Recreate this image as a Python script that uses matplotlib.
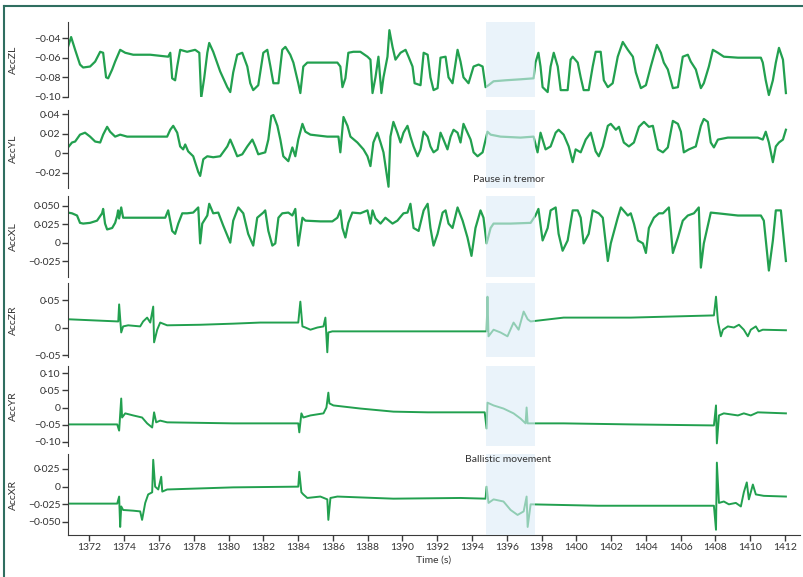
import numpy as np
import matplotlib
matplotlib.use("Agg")
import matplotlib.pyplot as plt
from matplotlib.lines import Line2D
from matplotlib.ticker import FixedLocator, FuncFormatter

plt.rcParams['font.family'] = ['Lato', 'DejaVu Sans']

# data (time in s, acceleration)
t_zl = [1370.77, 1370.95, 1371.18, 1371.46, 1371.64, 1372.04, 1372.33, 1372.62, 1372.79, 1372.96, 1373.08, 1373.31,
        1373.48, 1373.77, 1374.06, 1374.52, 1375.50, 1376.53, 1376.65, 1376.76, 1376.93, 1377.05, 1377.22, 1377.62,
        1378.08, 1378.32, 1378.43, 1378.60, 1378.78, 1378.89, 1379.12, 1379.52, 1379.93, 1380.10, 1380.27, 1380.50,
        1380.79, 1381.08, 1381.25, 1381.42, 1381.71, 1382.00, 1382.23, 1382.41, 1382.58, 1382.87, 1383.09, 1383.27,
        1383.55, 1383.73, 1384.01, 1384.13, 1384.30, 1384.53, 1384.88, 1385.68, 1386.26, 1386.43, 1386.55, 1386.72,
        1386.89, 1387.18, 1387.58, 1387.99, 1388.16, 1388.28, 1388.45, 1388.62, 1388.79, 1388.91, 1389.14, 1389.25,
        1389.43, 1389.60, 1389.89, 1390.18, 1390.35, 1390.58, 1390.70, 1391.04, 1391.22, 1391.45, 1391.61, 1391.79,
        1392.02, 1392.19, 1392.48, 1392.65, 1392.88, 1393.17, 1393.34, 1393.51, 1393.80, 1394.09, 1394.38, 1394.61,
        1394.78, 1394.95, 1395.24, 1395.93, 1396.79, 1397.54, 1397.65, 1397.82, 1397.94, 1398.06, 1398.35, 1398.52,
        1398.70, 1398.93, 1399.10, 1399.50, 1399.67, 1399.79, 1400.08, 1400.25, 1400.42, 1400.71, 1400.94, 1401.11,
        1401.40, 1401.58, 1401.81, 1402.09, 1402.38, 1402.67, 1402.96, 1403.25, 1403.42, 1403.71, 1404.00, 1404.28,
        1404.63, 1404.86, 1405.03, 1405.26, 1405.55, 1405.84, 1406.12, 1406.41, 1406.58, 1406.87, 1407.16, 1407.33,
        1407.62, 1407.85, 1408.14, 1408.48, 1409.29, 1410.03, 1410.61, 1410.72, 1410.89, 1411.07, 1411.30, 1411.47,
        1411.65, 1411.88, 1412.05]
v_zl = [-0.049, -0.039, -0.052, -0.067, -0.070, -0.069, -0.064, -0.054, -0.055, -0.080, -0.081, -0.072,
        -0.064, -0.052, -0.055, -0.057, -0.057, -0.059, -0.055, -0.081, -0.083, -0.069, -0.052, -0.054,
        -0.052, -0.055, -0.101, -0.081, -0.055, -0.045, -0.054, -0.074, -0.090, -0.095, -0.075, -0.057,
        -0.055, -0.069, -0.086, -0.093, -0.088, -0.055, -0.052, -0.069, -0.086, -0.086, -0.052, -0.049,
        -0.057, -0.065, -0.086, -0.096, -0.069, -0.065, -0.065, -0.065, -0.065, -0.069, -0.090, -0.081,
        -0.055, -0.054, -0.054, -0.059, -0.062, -0.096, -0.080, -0.059, -0.096, -0.080, -0.059, -0.032,
        -0.049, -0.062, -0.055, -0.052, -0.059, -0.069, -0.086, -0.088, -0.055, -0.057, -0.080, -0.093,
        -0.091, -0.060, -0.059, -0.080, -0.086, -0.052, -0.064, -0.080, -0.086, -0.069, -0.067, -0.069,
        -0.090, -0.088, -0.084, -0.083, -0.082, -0.081, -0.065, -0.055, -0.069, -0.090, -0.095, -0.069,
        -0.055, -0.069, -0.093, -0.093, -0.062, -0.059, -0.065, -0.080, -0.093, -0.093, -0.069, -0.054,
        -0.054, -0.083, -0.090, -0.086, -0.059, -0.044, -0.052, -0.059, -0.075, -0.091, -0.088, -0.069,
        -0.047, -0.055, -0.065, -0.072, -0.091, -0.090, -0.059, -0.057, -0.064, -0.072, -0.091, -0.086,
        -0.069, -0.052, -0.055, -0.059, -0.060, -0.060, -0.060, -0.065, -0.083, -0.098, -0.083, -0.065,
        -0.050, -0.062, -0.096]

t_yl = [1370.77, 1371.00, 1371.18, 1371.46, 1371.75, 1372.04, 1372.33, 1372.62, 1372.79, 1373.02, 1373.19, 1373.48,
        1373.77, 1374.17, 1374.92, 1375.90, 1376.47, 1376.65, 1376.82, 1377.05, 1377.22, 1377.39, 1377.51, 1377.68,
        1377.97, 1378.26, 1378.37, 1378.55, 1378.78, 1379.12, 1379.52, 1379.93, 1380.10, 1380.27, 1380.50, 1380.79,
        1381.08, 1381.37, 1381.54, 1381.71, 1382.11, 1382.29, 1382.46, 1382.58, 1382.81, 1382.98, 1383.15, 1383.44,
        1383.67, 1383.84, 1384.01, 1384.25, 1384.42, 1384.71, 1385.68, 1386.32, 1386.43, 1386.61, 1386.84, 1387.01,
        1387.41, 1387.76, 1387.99, 1388.16, 1388.33, 1388.56, 1388.74, 1388.91, 1389.20, 1389.31, 1389.48, 1389.71,
        1389.89, 1390.06, 1390.29, 1390.46, 1390.64, 1390.87, 1391.04, 1391.22, 1391.45, 1391.61, 1391.79, 1392.02,
        1392.19, 1392.36, 1392.59, 1392.77, 1392.94, 1393.17, 1393.34, 1393.51, 1393.74, 1393.92, 1394.09, 1394.32,
        1394.61, 1394.78, 1394.89, 1395.07, 1395.64, 1396.79, 1397.54, 1397.77, 1397.94, 1398.23, 1398.52, 1398.81,
        1398.98, 1399.27, 1399.56, 1399.79, 1399.96, 1400.25, 1400.54, 1400.83, 1401.11, 1401.29, 1401.52, 1401.81,
        1401.98, 1402.27, 1402.45, 1402.73, 1403.02, 1403.31, 1403.60, 1403.89, 1404.17, 1404.40, 1404.69, 1404.98,
        1405.26, 1405.55, 1405.84, 1406.01, 1406.18, 1406.47, 1406.87, 1407.16, 1407.33, 1407.56, 1407.73, 1407.91,
        1408.14, 1408.71, 1409.63, 1410.43, 1410.72, 1410.89, 1411.07, 1411.30, 1411.47, 1411.65, 1411.88, 1412.05]
v_yl = [0.006, 0.011, 0.012, 0.019, 0.021, 0.017, 0.012, 0.011, 0.019, 0.027, 0.022, 0.017,
        0.019, 0.017, 0.017, 0.017, 0.017, 0.024, 0.028, 0.021, 0.007, 0.004, 0.009, 0.002,
        -0.003, -0.019, -0.023, -0.006, -0.003, -0.004, -0.003, 0.007, 0.014, 0.007, -0.003, -0.001,
        0.007, 0.014, 0.007, -0.001, 0.001, 0.014, 0.038, 0.039, 0.028, 0.014, -0.003, -0.008,
        0.006, -0.003, 0.014, 0.030, 0.022, 0.019, 0.017, 0.017, 0.001, 0.037, 0.028, 0.017,
        0.011, 0.004, -0.003, -0.013, 0.011, 0.021, 0.011, 0.001, -0.034, 0.017, 0.032, 0.021,
        0.011, 0.021, 0.028, 0.017, 0.007, -0.003, 0.004, 0.022, 0.017, 0.007, 0.001, 0.004,
        0.021, 0.014, 0.004, 0.017, 0.024, 0.021, 0.011, 0.030, 0.021, 0.014, 0.001, -0.003,
        0.001, 0.014, 0.022, 0.019, 0.017, 0.016, 0.017, 0.001, 0.021, 0.004, 0.007, 0.021,
        0.024, 0.019, 0.007, -0.009, 0.004, 0.001, 0.014, 0.021, 0.002, -0.003, 0.007, 0.028,
        0.030, 0.024, 0.027, 0.011, 0.007, 0.011, 0.027, 0.032, 0.027, 0.028, 0.004, 0.001,
        0.006, 0.033, 0.030, 0.022, 0.001, 0.004, 0.007, 0.028, 0.035, 0.032, 0.011, 0.006,
        0.014, 0.016, 0.016, 0.016, 0.014, 0.022, 0.011, -0.009, 0.007, 0.011, 0.014, 0.024]

t_xl = [1370.77, 1371.00, 1371.29, 1371.46, 1371.64, 1372.04, 1372.44, 1372.73, 1372.79, 1372.90, 1373.02, 1373.31,
        1373.48, 1373.60, 1373.65, 1373.71, 1373.83, 1373.94, 1374.52, 1375.50, 1376.36, 1376.53, 1376.76, 1376.93,
        1377.11, 1377.34, 1377.62, 1377.97, 1378.26, 1378.37, 1378.49, 1378.78, 1378.89, 1379.12, 1379.41, 1379.70,
        1380.10, 1380.27, 1380.56, 1380.85, 1381.13, 1381.42, 1381.65, 1382.00, 1382.11, 1382.29, 1382.52, 1382.69,
        1382.87, 1383.09, 1383.44, 1383.67, 1383.84, 1384.01, 1384.25, 1384.42, 1385.28, 1385.97, 1386.26, 1386.43,
        1386.55, 1386.72, 1386.89, 1387.12, 1387.58, 1387.99, 1388.16, 1388.28, 1388.45, 1388.74, 1389.02, 1389.43,
        1389.71, 1390.06, 1390.29, 1390.46, 1390.64, 1390.93, 1391.22, 1391.45, 1391.61, 1391.79, 1392.02, 1392.31,
        1392.48, 1392.65, 1392.88, 1393.17, 1393.46, 1393.74, 1393.97, 1394.20, 1394.49, 1394.66, 1394.84, 1395.07,
        1395.24, 1396.22, 1397.37, 1397.65, 1397.82, 1398.06, 1398.35, 1398.52, 1398.81, 1398.98, 1399.21, 1399.50,
        1399.79, 1400.08, 1400.25, 1400.42, 1400.71, 1400.94, 1401.29, 1401.52, 1401.81, 1401.98, 1402.38, 1402.56,
        1402.96, 1403.13, 1403.31, 1403.54, 1403.83, 1404.00, 1404.17, 1404.46, 1404.75, 1404.98, 1405.32, 1405.55,
        1405.84, 1406.12, 1406.41, 1406.76, 1407.04, 1407.16, 1407.33, 1407.73, 1408.14, 1409.29, 1410.61, 1410.78,
        1411.07, 1411.30, 1411.47, 1411.76, 1412.05]
v_xl = [0.041, 0.040, 0.037, 0.027, 0.026, 0.027, 0.030, 0.040, 0.046, 0.026, 0.018, 0.020,
        0.027, 0.037, 0.044, 0.033, 0.048, 0.034, 0.034, 0.034, 0.034, 0.044, 0.016, 0.012,
        0.026, 0.040, 0.040, 0.041, 0.048, -0.001, 0.026, 0.037, 0.053, 0.040, 0.041, 0.023,
        0.000, 0.030, 0.048, 0.040, 0.012, -0.004, 0.034, 0.041, 0.044, 0.016, -0.004, -0.001,
        0.034, 0.040, 0.041, 0.037, 0.046, -0.004, 0.034, 0.030, 0.029, 0.029, 0.034, 0.044,
        0.020, 0.007, 0.027, 0.041, 0.040, 0.044, 0.026, 0.044, 0.033, 0.026, 0.034, 0.026,
        0.030, 0.040, 0.041, 0.053, 0.020, 0.016, 0.044, 0.053, 0.020, -0.004, 0.012, 0.041,
        0.044, 0.026, 0.020, 0.048, 0.030, 0.007, -0.018, 0.020, 0.044, 0.034, -0.001, 0.020,
        0.026, 0.026, 0.027, 0.037, 0.046, 0.003, 0.020, 0.044, 0.048, 0.012, -0.011, 0.003,
        0.044, 0.044, 0.034, -0.001, 0.012, 0.044, 0.040, 0.034, -0.025, -0.001, 0.034, 0.048,
        0.037, 0.040, 0.026, 0.003, -0.001, -0.014, 0.020, 0.034, 0.040, 0.040, 0.048, -0.014,
        0.007, 0.030, 0.037, 0.040, 0.048, -0.034, -0.001, 0.041, 0.040, 0.037, 0.037, 0.030,
        -0.038, 0.003, 0.044, 0.044, -0.025]

t_zr = [1370.77, 1373.66, 1373.71, 1373.83, 1373.94, 1374.23, 1374.92, 1375.09, 1375.32, 1375.50, 1375.67, 1375.72,
        1375.90, 1376.07, 1376.47, 1378.37, 1380.27, 1381.83, 1384.01, 1384.13, 1384.25, 1384.42, 1384.71, 1385.11,
        1385.46, 1385.57, 1385.68, 1385.74, 1385.97, 1389.48, 1393.34, 1394.84, 1394.89, 1394.95, 1395.24, 1395.64,
        1396.04, 1396.39, 1396.68, 1396.97, 1397.20, 1397.37, 1399.27, 1403.13, 1407.91, 1408.03, 1408.14, 1408.31,
        1408.43, 1408.71, 1409.06, 1409.35, 1409.63, 1409.86, 1410.03, 1410.32, 1410.49, 1410.72, 1412.05]
v_zr = [0.015, 0.011, 0.042, -0.009, 0.002, 0.004, 0.002, 0.011, 0.018, 0.009, 0.038, -0.027,
        -0.004, 0.009, 0.004, 0.005, 0.007, 0.009, 0.009, 0.047, 0.002, 0.000, -0.004, 0.000,
        0.002, 0.018, -0.045, -0.009, -0.007, -0.007, -0.007, -0.007, 0.056, -0.016, -0.004, -0.009,
        -0.016, 0.009, -0.004, 0.029, 0.015, 0.011, 0.018, 0.018, 0.022, 0.056, 0.011, -0.016,
        -0.004, 0.002, 0.000, 0.005, -0.004, -0.016, -0.004, 0.002, -0.007, -0.004, -0.005]

t_yr = [1370.77, 1373.60, 1373.71, 1373.83, 1373.88, 1374.06, 1374.52, 1375.03, 1375.32, 1375.61, 1375.72, 1375.84,
        1376.07, 1376.47, 1380.27, 1384.01, 1384.07, 1384.19, 1384.30, 1384.71, 1385.46, 1385.63, 1385.74, 1385.80,
        1386.03, 1387.58, 1389.48, 1391.45, 1394.73, 1394.84, 1394.89, 1395.24, 1395.81, 1396.39, 1396.79, 1397.08,
        1397.14, 1397.20, 1397.54, 1399.27, 1403.13, 1407.91, 1408.03, 1408.08, 1408.20, 1408.48, 1409.29, 1409.63,
        1410.03, 1410.43, 1412.05]
v_yr = [-0.049, -0.049, -0.067, 0.026, -0.029, -0.017, -0.023, -0.029, -0.046, -0.058, -0.014, -0.043,
        -0.038, -0.043, -0.046, -0.046, -0.072, -0.017, -0.029, -0.023, -0.017, 0.000, 0.043, 0.012,
        0.006, -0.003, -0.012, -0.014, -0.014, -0.061, 0.014, 0.006, -0.003, -0.017, -0.032, -0.046,
        0.000, -0.046, -0.046, -0.046, -0.049, -0.052, 0.006, -0.104, -0.023, -0.017, -0.023, -0.017,
        -0.023, -0.014, -0.017]

t_xr = [1370.77, 1373.60, 1373.71, 1373.77, 1373.83, 1373.94, 1374.52, 1374.92, 1375.03, 1375.21, 1375.38, 1375.61,
        1375.67, 1375.78, 1375.96, 1376.13, 1376.19, 1376.47, 1380.27, 1384.01, 1384.07, 1384.19, 1384.30, 1384.53,
        1385.28, 1385.68, 1385.74, 1385.86, 1386.26, 1389.48, 1393.34, 1394.78, 1394.84, 1394.95, 1395.24, 1395.81,
        1396.22, 1396.62, 1396.97, 1397.14, 1397.20, 1397.37, 1401.23, 1405.03, 1407.91, 1408.03, 1408.08, 1408.20,
        1408.48, 1408.77, 1409.17, 1409.46, 1409.63, 1409.80, 1409.92, 1410.15, 1410.32, 1410.78, 1412.05]
v_xr = [-0.024, -0.024, -0.014, -0.057, -0.028, -0.033, -0.034, -0.035, -0.047, -0.023, -0.011, -0.008,
        0.038, 0.000, -0.004, 0.014, -0.007, -0.004, -0.001, 0.000, 0.021, -0.008, -0.011, -0.016,
        -0.014, -0.018, -0.047, -0.016, -0.014, -0.017, -0.016, -0.017, 0.000, -0.023, -0.018, -0.021,
        -0.033, -0.040, -0.035, -0.014, -0.057, -0.025, -0.027, -0.027, -0.027, -0.061, 0.034, -0.023,
        -0.021, -0.025, -0.023, -0.028, -0.008, 0.006, -0.018, 0.003, -0.011, -0.013, -0.014]

names = ['AccZL', 'AccYL', 'AccXL', 'AccZR', 'AccYR', 'AccXR']
series = [(t_zl, v_zl), (t_yl, v_yl), (t_xl, v_xl), (t_zr, v_zr), (t_yr, v_yr), (t_xr, v_xr)]
yticks = [[-0.04, -0.06, -0.08, -0.10],
          [0.04, 0.02, 0, -0.02],
          [0.050, 0.025, 0, -0.025],
          [0.05, 0, -0.05],
          [0.10, 0.05, 0, -0.05, -0.10],
          [0.025, 0, -0.025, -0.050]]
ydigits = [2, 2, 3, 2, 2, 3]
ylims = [(-0.100, -0.0237), (-0.0353, 0.0441), (-0.0468, 0.0636),
         (-0.0536, 0.0809), (-0.1116, 0.1203), (-0.0684, 0.0462)]
xticks = list(range(1372, 1413, 2))
pause = (1394.8, 1397.6)

# axes boxes in pixels: top, bottom
boxes = [(22, 97), (110, 188), (196, 277), (283, 357), (366, 446), (454, 535)]
W, H = 804, 577
green = '#22a04f'


def fmt(d):
    def f(v, pos):
        if abs(v) < 1e-9:
            return '0'
        s = ('{:.%df}' % d).format(abs(v)).replace('.', '\u00b7')
        return ('\u2212' if v < 0 else '') + s
    return f


fig = plt.figure(figsize=(W / 100, H / 100), dpi=100)

for i, (top, bot) in enumerate(boxes):
    ax = fig.add_axes([68 / W, (H - bot) / H, 732 / W, (bot - top) / H])
    t, v = series[i]
    ax.plot(t, v, color=green, lw=1.6 if i < 3 else 1.4, solid_joinstyle='round', zorder=2)
    ax.axvspan(pause[0], pause[1], color='#dcecf8', alpha=0.6, lw=0, zorder=3)
    ax.set_xlim(1370.77, 1412.86)
    ax.set_ylim(*ylims[i])
    ax.yaxis.set_major_locator(FixedLocator(yticks[i]))
    ax.yaxis.set_major_formatter(FuncFormatter(fmt(ydigits[i])))
    for s in ['top', 'right']:
        ax.spines[s].set_visible(False)
    ax.spines['left'].set_color('#3a3a3a')
    ax.spines['bottom'].set_color('#3a3a3a')
    ax.tick_params(axis='both', direction='out', length=4, width=1, color='#3a3a3a',
                   labelsize=7.5, labelcolor='#333333', pad=1.5)
    ax.set_ylabel(names[i], fontsize=7.5, color='#333333')
    ax.yaxis.set_label_coords(-0.068, 0.5)
    ax.patch.set_alpha(0)
    if i < 5:
        ax.spines['bottom'].set_visible(False)
        ax.set_xticks([])
    else:
        ax.set_xticks(xticks)
        ax.set_xlabel('Time (s)', fontsize=7.5, color='#333333', labelpad=3)

fig.text(473 / W, 1 - 179 / H, 'Pause in tremor', fontsize=7.5, color='#333333', ha='left', va='center')
fig.text(465 / W, 1 - 459 / H, 'Ballistic movement', fontsize=7.5, color='#333333', ha='left', va='center')

# frame around the figure (top and left edges visible)
fig.add_artist(Line2D([4 / W, 1], [1 - 6 / H, 1 - 6 / H], color='#2f6e60', lw=1.5, transform=fig.transFigure))
fig.add_artist(Line2D([4 / W, 4 / W], [0, 1 - 6 / H], color='#2f6e60', lw=1.5, transform=fig.transFigure))

fig.savefig('out.png', dpi=100)
